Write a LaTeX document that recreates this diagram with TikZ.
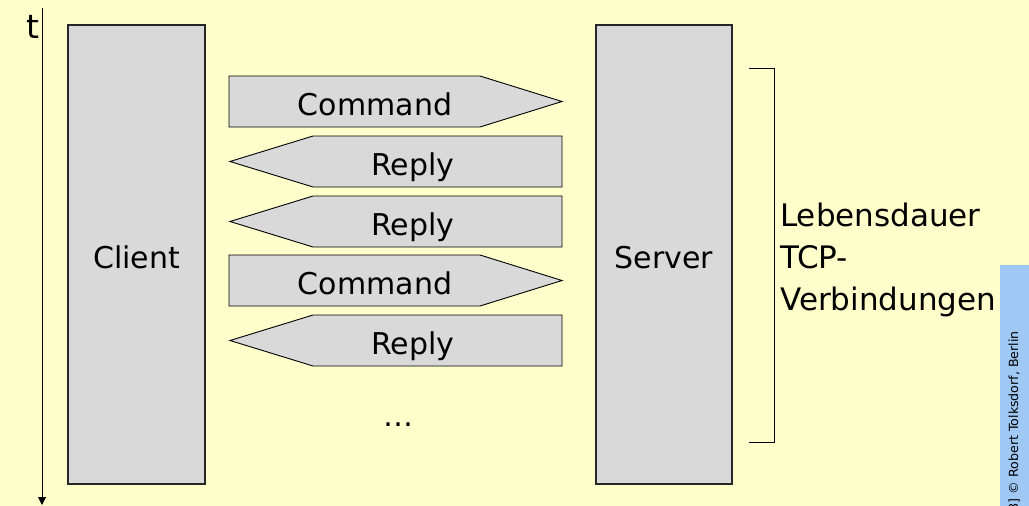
\documentclass[tikz,border=0pt]{standalone}
\usepackage{fontspec}
\setmainfont{DejaVu Sans}
\usetikzlibrary{arrows.meta}
\definecolor{bgyellow}{RGB}{255,255,204}
\definecolor{boxgray}{RGB}{217,217,217}
\definecolor{stripblue}{RGB}{160,200,245}

% Message arrows: name, top edge, label
\newcommand\cmdmsg[3]{%
  \draw[msg] (229,#2) -- (480,#2) -- (562,#2+25.5) -- (480,#2+51) -- (229,#2+51) -- cycle;
  \node[lbl, anchor=base] (#1) at (375,#2+39) {#3};}
\newcommand\replymsg[3]{%
  \draw[msg] (562,#2) -- (313,#2) -- (230,#2+25.5) -- (313,#2+51) -- (562,#2+51) -- cycle;
  \node[lbl, anchor=base] (#1) at (413,#2+39) {#3};}

\begin{document}
\begin{tikzpicture}[x=1pt,y=-1pt,
  lbl/.style={font=\fontsize{30}{35}\selectfont, inner sep=0pt},
  side/.style={font=\fontsize{31}{36}\selectfont, inner sep=0pt, anchor=base west},
  party/.style={draw=black!85, line width=1.6pt, fill=boxgray, inner sep=0pt},
  msg/.style={draw=black, line width=0.9pt, fill=boxgray, line join=miter}]
\useasboundingbox (0,0) rectangle (1029,506);
\clip (0,0) rectangle (1029,506);
\fill[bgyellow] (0,0) rectangle (1029,506);
\fill[stripblue] (1000,265) rectangle (1029,506);

% time axis
\coordinate (tTop) at (42,8);
\coordinate (tEnd) at (42,505);
\draw[line width=1pt, -{Triangle[length=8pt,width=8pt]}] (tTop) -- (tEnd);
\node[font=\fontsize{33}{38}\selectfont, inner sep=0pt, anchor=base east] (t) at (40,38) {t};

% client and server
\node[party, minimum width=137pt, minimum height=459pt] (client) at (136.5,254.5) {};
\node[lbl, anchor=base] (clientlbl) at (client.center |- 0,268) {Client};
\node[party, minimum width=136pt, minimum height=459pt] (server) at (664,254.5) {};
\node[lbl, anchor=base] (serverlbl) at (server.center |- 0,268) {Server};

% exchanged messages
\cmdmsg{c1}{76}{Command}
\replymsg{r1}{136}{Reply}
\replymsg{r2}{196}{Reply}
\cmdmsg{c2}{255}{Command}
\replymsg{r3}{315}{Reply}
\node[lbl, anchor=base] (more) at (398,426) {…};

% lifetime bracket
\coordinate (bTop) at (749,68);
\coordinate (bBot) at (749,442);
\draw[line width=0.9pt] (bTop) -- ++(25,0) |- (bBot);
\node[side] (l1) at (780,226) {Lebensdauer};
\node[side] (l2) at (780,268) {TCP-};
\node[side] (l3) at (780,310) {Verbindungen};

% copyright line
\node[font=\fontsize{12.6}{15}\selectfont, rotate=90, anchor=base east, inner sep=0pt] (copy) at (1018,331) {[8] © Robert Tolksdorf, Berlin};
\end{tikzpicture}
\end{document}
